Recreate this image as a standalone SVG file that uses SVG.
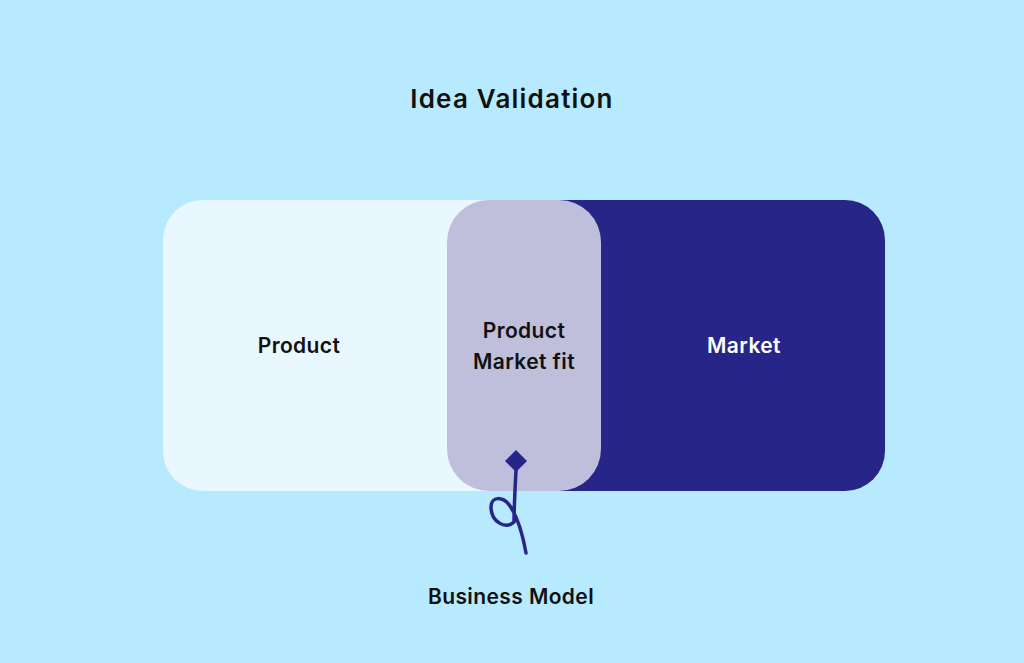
<svg xmlns="http://www.w3.org/2000/svg" width="1024" height="663" viewBox="0 0 1024 663">
<style>
.t{font-family:Inter,"Open Sans","Liberation Sans",sans-serif;font-weight:600;fill:#111;text-anchor:middle;dominant-baseline:central;font-size:21px;letter-spacing:0.4px}
</style>
<rect width="1024" height="663" fill="#b8eaff"/>
<text class="t" x="512" y="98" style="font-size:26px;letter-spacing:1.2px">Idea Validation</text>
<g id="product">
<path d="M203,200 H520 V491 H203 A40,40 0 0 1 163,451 V240 A40,40 0 0 1 203,200 Z" fill="#e9f8ff"/>
<text class="t" x="299" y="345">Product</text>
</g>
<g id="market">
<path d="M540,200 H845 A40,40 0 0 1 885,240 V451 A40,40 0 0 1 845,491 H540 Z" fill="#272587"/>
<text class="t" x="744" y="345" style="fill:#fff">Market</text>
</g>
<g id="fit">
<rect x="447" y="200" width="154" height="291" rx="42" fill="#bfbfdb"/>
<text class="t" x="524" y="330">Product</text>
<text class="t" x="524" y="361">Market fit</text>
</g>
<g id="connectors">
<path d="M516,470 C515,490 514,508 514,522 C506,530 491,522 491,507 C491,496 503,496 510,506 C518,518 523,536 526,553" fill="none" stroke="#272587" stroke-width="3.5" stroke-linecap="round"/>
<path d="M516,450 L527,461 L516,472 L505,461 Z" fill="#272587"/>
</g>
<g id="business">
<text class="t" x="511" y="596">Business Model</text>
</g>
</svg>
